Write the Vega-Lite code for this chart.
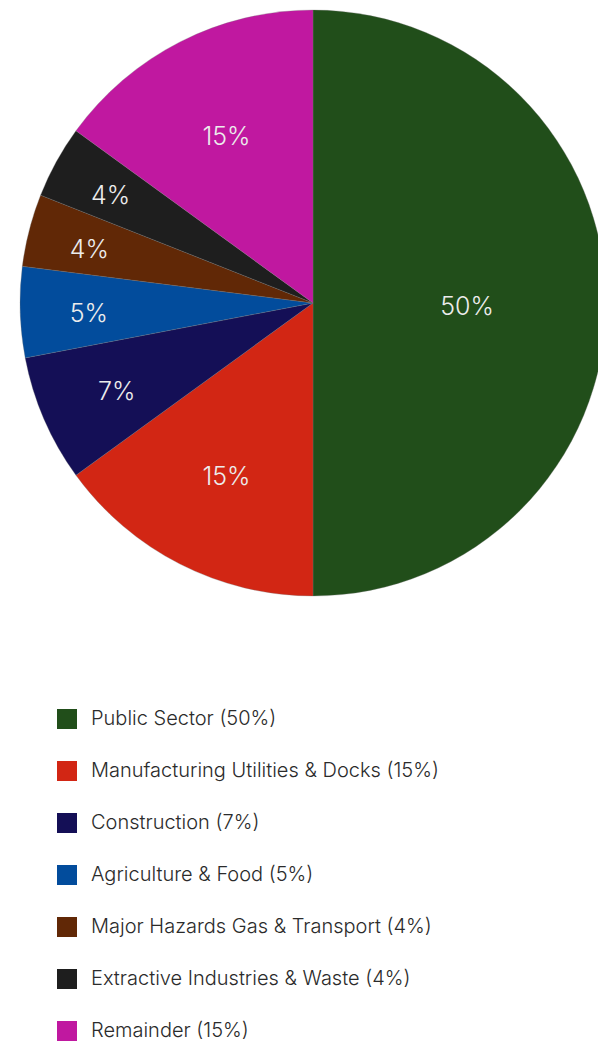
{
  "$schema": "https://vega.github.io/schema/vega-lite/v6.json",
  "width": 626,
  "height": 606,
  "autosize": {"type": "none"},
  "padding": {"left": 0, "top": 0, "right": 0, "bottom": 439},
  "background": "white",
  "view": {"stroke": null},
  "data": {
    "values": [
      {"idx": 1, "label": "Public Sector (50%)", "value": 0.50},
      {"idx": 2, "label": "Manufacturing Utilities & Docks (15%)", "value": 0.15},
      {"idx": 3, "label": "Construction (7%)", "value": 0.07},
      {"idx": 4, "label": "Agriculture & Food (5%)", "value": 0.05},
      {"idx": 5, "label": "Major Hazards Gas & Transport (4%)", "value": 0.04},
      {"idx": 6, "label": "Extractive Industries & Waste (4%)", "value": 0.04},
      {"idx": 7, "label": "Remainder (15%)", "value": 0.15}
    ]
  },
  "encoding": {
    "theta": {"field": "value", "type": "quantitative", "stack": true},
    "order": {"field": "idx", "type": "quantitative"}
  },
  "layer": [
    {
      "mark": {"type": "arc", "outerRadius": 293, "stroke": "#777", "strokeWidth": 0.3},
      "encoding": {
        "color": {
          "field": "label",
          "type": "nominal",
          "scale": {
            "domain": ["Public Sector (50%)", "Manufacturing Utilities & Docks (15%)", "Construction (7%)", "Agriculture & Food (5%)", "Major Hazards Gas & Transport (4%)", "Extractive Industries & Waste (4%)", "Remainder (15%)"],
            "range": ["#214e1a", "#d22614", "#140f56", "#024c9c", "#612806", "#1e1e1e", "#c018a0"]
          },
          "legend": {
            "orient": "none",
            "legendX": 57,
            "legendY": 709,
            "title": null,
            "symbolType": "square",
            "symbolSize": 400,
            "symbolStrokeWidth": 0,
            "labelFont": "Inter",
            "labelFontSize": 20,
            "labelFontWeight": 300,
            "labelColor": "#2b2b2b",
            "labelOffset": 14,
            "rowPadding": 32,
            "padding": 0,
            "labelLimit": 500
          }
        }
      }
    },
    {
      "mark": {"type": "text", "font": "Inter", "fontSize": 25, "fontWeight": 300, "fill": "#ececec", "align": "center", "baseline": "middle", "dy": 4},
      "encoding": {
        "text": {"field": "value", "type": "quantitative", "format": ".0%"},
        "radius": {"field": "value", "type": "quantitative", "scale": {"type": "log", "domain": [0.04, 0.5], "range": [231, 154]}, "legend": null}
      }
    }
  ]
}
